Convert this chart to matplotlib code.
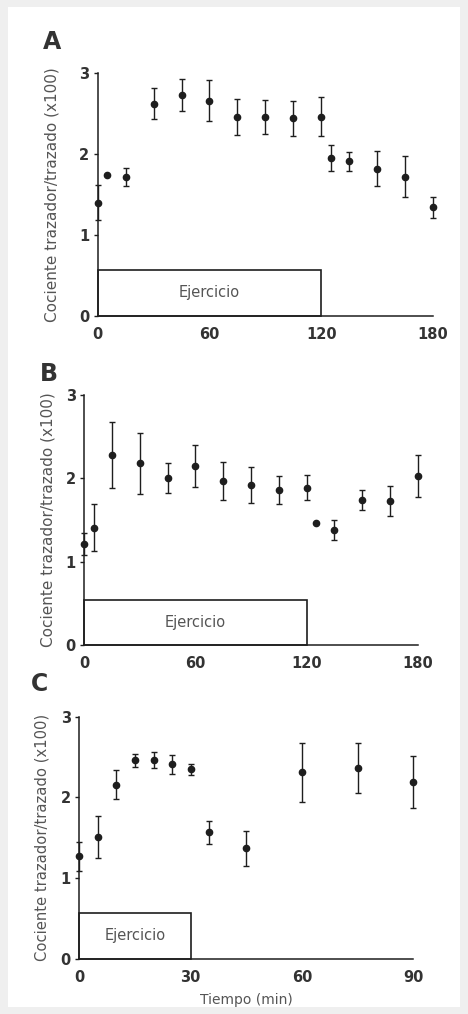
import matplotlib
matplotlib.use("Agg")
import matplotlib.pyplot as plt
from matplotlib.patches import Rectangle

# ---- data ----
time_a = [0, 5, 15, 30, 45, 60, 75, 90, 105, 120, 125, 135, 150, 165, 180]
ratio_a = [1.40, 1.74, 1.72, 2.62, 2.73, 2.66, 2.46, 2.46, 2.44, 2.46, 1.95, 1.91, 1.82, 1.72, 1.34]
err_a = [0.22, 0.0, 0.11, 0.19, 0.20, 0.25, 0.22, 0.21, 0.22, 0.24, 0.16, 0.12, 0.22, 0.25, 0.13]

time_b = [0, 5, 15, 30, 45, 60, 75, 90, 105, 120, 125, 135, 150, 165, 180]
ratio_b = [1.21, 1.41, 2.28, 2.18, 2.00, 2.15, 1.97, 1.92, 1.86, 1.89, 1.47, 1.38, 1.74, 1.73, 2.03]
err_b = [0.13, 0.28, 0.40, 0.37, 0.18, 0.25, 0.23, 0.22, 0.17, 0.15, 0.0, 0.12, 0.12, 0.18, 0.25]

time_c = [0, 5, 10, 15, 20, 25, 30, 35, 45, 60, 75, 90]
ratio_c = [1.27, 1.51, 2.16, 2.46, 2.46, 2.41, 2.35, 1.57, 1.37, 2.31, 2.37, 2.19]
err_c = [0.18, 0.26, 0.18, 0.08, 0.10, 0.12, 0.07, 0.14, 0.22, 0.36, 0.31, 0.32]

panel_letters = ["A", "B", "C"]
xticks_ab = [0, 60, 120, 180]
xticks_c = [0, 30, 60, 90]
yticks = [0, 1, 2, 3]
exercise_end = [120, 120, 30]
ylabel = "Cociente trazador/trazado (x100)"
xlabel = "Tiempo (min)"
box_label = "Ejercicio"

W, H = 468, 1014
fig = plt.figure(figsize=(W / 100, H / 100), dpi=100, facecolor="#efefef")
fig.patches.append(Rectangle((8 / W, 7 / H), (W - 16) / W, (H - 14) / H,
                             transform=fig.transFigure, facecolor="white",
                             edgecolor="none", zorder=-10))

# axes rectangles in pixels: (x0, x_end, y_bottom_px_from_top, y_top_px_from_top)
ax_px = [(97.7, 433.0, 316.0, 73.0),
         (84.3, 417.7, 645.0, 395.0),
         (79.3, 413.3, 959.0, 716.7)]
letter_px = [(43, 42), (40, 374), (31, 684)]
datasets = [(time_a, ratio_a, err_a, 180, xticks_ab),
            (time_b, ratio_b, err_b, 180, xticks_ab),
            (time_c, ratio_c, err_c, 90, xticks_c)]
box_top = [0.57, 0.54, 0.57]
ylab_size = [11.0, 11.0, 10.6]
ylab_pad = [14, 7, 8]

ink = "#1e1e1e"
for i, ((x0, x1, yb, yt), (t, r, e, xmax, xt)) in enumerate(zip(ax_px, datasets)):
    ax = fig.add_axes([x0 / W, (H - yb) / H, (x1 - x0) / W, (yb - yt) / H])
    ax.set_facecolor("none")
    ax.set_xlim(0, xmax)
    ax.set_ylim(0, 3)
    for s in ["top", "right"]:
        ax.spines[s].set_visible(False)
    for s in ["left", "bottom"]:
        ax.spines[s].set_color(ink)
        ax.spines[s].set_linewidth(1.1)
    ax.errorbar(t, r, yerr=e, fmt="o", color=ink, ms=4.5, elinewidth=1.0,
                capsize=2, capthick=1.0, clip_on=False, zorder=5)
    ax.add_patch(Rectangle((0, 0), exercise_end[i], box_top[i], facecolor="white",
                           edgecolor=ink, linewidth=1.2, zorder=2, clip_on=False))
    ax.text(exercise_end[i] / 2, box_top[i] / 2, box_label, ha="center", va="center",
            fontsize=10.5, color="#555555", zorder=3)
    ax.set_xticks(xt)
    ax.set_xticklabels([str(v) for v in xt], fontsize=10.5, fontweight="bold", color="#333333")
    ax.set_yticks(yticks)
    ax.set_yticklabels([str(v) for v in yticks], fontsize=10.5, fontweight="bold", color="#333333")
    ax.tick_params(axis="x", length=0, pad=8)
    ax.tick_params(axis="y", length=3, width=1, color=ink, pad=3)
    ax.set_ylabel(ylabel, fontsize=ylab_size[i], color="#555555", labelpad=ylab_pad[i])
    lx, ly = letter_px[i]
    fig.text(lx / W, (H - ly) / H, panel_letters[i], fontsize=17, fontweight="bold",
             color="#333333", ha="left", va="center")
    if i == 2:
        ax.set_xlabel(xlabel, fontsize=10, color="#555555", labelpad=6)

fig.savefig("out.png", dpi=100, facecolor=fig.get_facecolor())
